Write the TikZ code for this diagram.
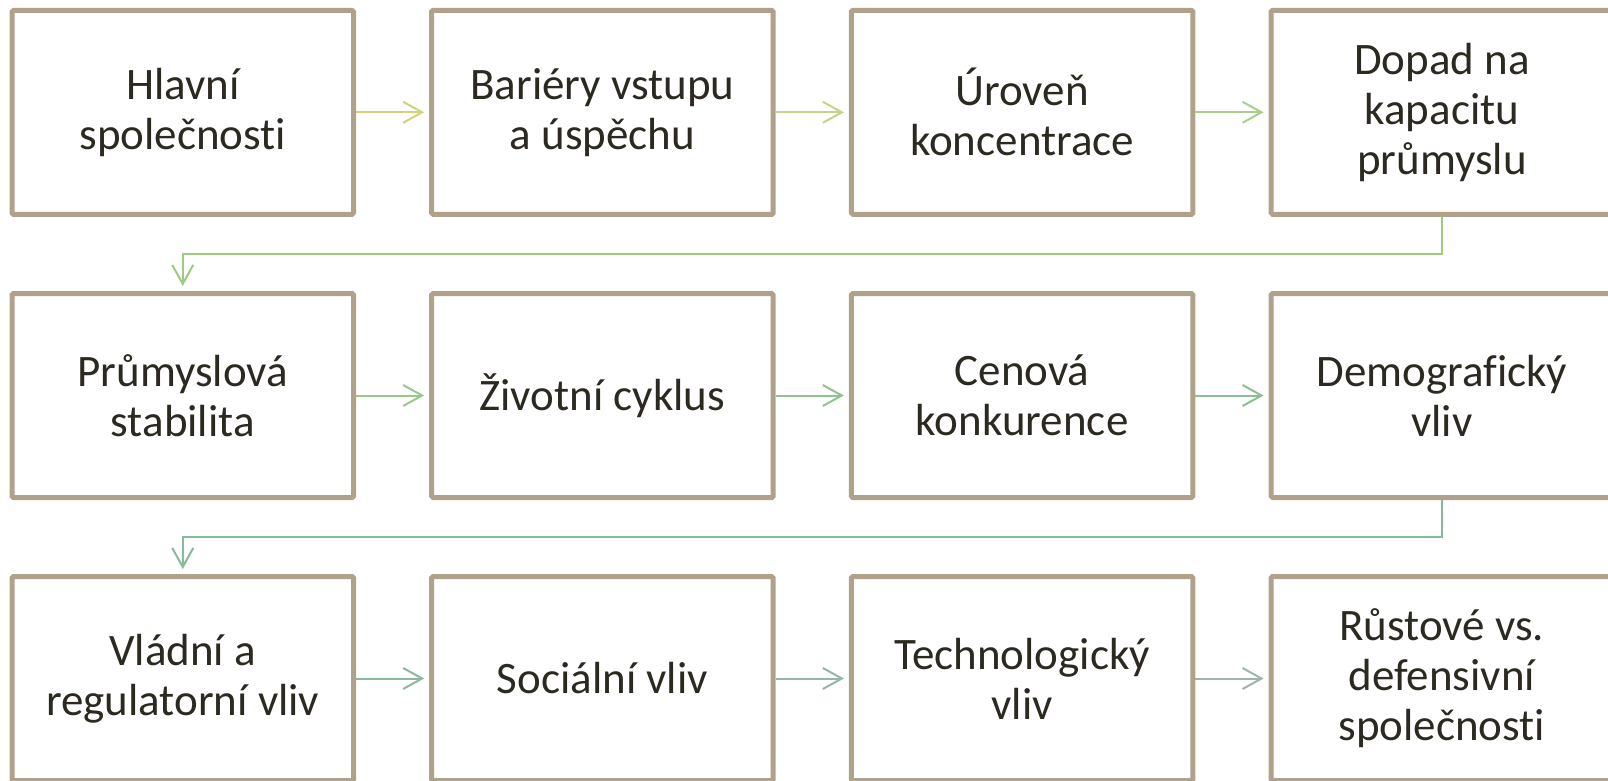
\documentclass[tikz,border=0pt]{standalone}
\usepackage{fontspec}
\setmainfont[Ligatures=NoCommon]{Carlito}
\usetikzlibrary{arrows.meta}
\definecolor{boxline}{HTML}{B0A18A}
\definecolor{txt}{HTML}{2B2920}
\definecolor{ca}{HTML}{D2D27A}
\definecolor{cb}{HTML}{C0D584}
\definecolor{cc}{HTML}{A8D08A}
\definecolor{cd}{HTML}{9DCB82}
\definecolor{ce}{HTML}{96C98A}
\definecolor{cf}{HTML}{90C48E}
\definecolor{cg}{HTML}{8ABF92}
\definecolor{ch}{HTML}{86BA98}
\definecolor{ci}{HTML}{8DB8A0}
\definecolor{cj}{HTML}{96B5A8}
\definecolor{ck}{HTML}{9FB3AF}
\tikzset{
  stepbox/.style={draw=boxline, line width=5pt, fill=white, rounded corners=1.5pt,
    minimum width=341.5pt, minimum height=204pt, inner sep=0pt,
    align=center, text=txt, font=\fontsize{45pt}{50pt}\selectfont},
  flow/.style={line width=2pt, shorten >=5pt,
    -{Straight Barb[length=19pt,width=21pt,line width=2pt]}}
}
\begin{document}
\begin{tikzpicture}[x=1pt,y=-1pt]
\useasboundingbox (0,0) rectangle (1608,781);
\path[clip] (0,0) rectangle (1608,781);
% row 1
\node[stepbox] (a1) at (182.75,112.3) {Hlavní\\společnosti};
\node[stepbox] (a2) at (602.45,112.3) {Bariéry vstupu\\a úspěchu};
\node[stepbox] (a3) at (1022.15,112.3) {Úroveň\\koncentrace};
\node[stepbox] (a4) at (1441.85,112.3) {Dopad na\\kapacitu\\průmyslu};
% row 2
\node[stepbox] (b1) at (182.75,395.5) {Průmyslová\\stabilita};
\node[stepbox] (b2) at (602.45,395.5) {Životní cyklus};
\node[stepbox] (b3) at (1022.15,395.5) {Cenová\\konkurence};
\node[stepbox] (b4) at (1441.85,395.5) {Demografický\\vliv};
% row 3
\node[stepbox] (c1) at (182.75,678.5) {Vládní a\\regulatorní vliv};
\node[stepbox] (c2) at (602.45,678.5) {Sociální vliv};
\node[stepbox] (c3) at (1022.15,678.5) {Technologický\\vliv};
\node[stepbox] (c4) at (1441.85,678.5) {Růstové vs.\\defensivní\\společnosti};
% elbow points
\coordinate (k1) at (182.75,254);
\coordinate (k2) at (182.75,537.3);
% arrows
\draw[flow, ca] (a1) -- (a2);
\draw[flow, cb] (a2) -- (a3);
\draw[flow, cc] (a3) -- (a4);
\draw[flow, cd] (a4.south) |- (k1) -- (b1.north);
\draw[flow, ce] (b1) -- (b2);
\draw[flow, cf] (b2) -- (b3);
\draw[flow, cg] (b3) -- (b4);
\draw[flow, ch] (b4.south) |- (k2) -- (c1.north);
\draw[flow, ci] (c1) -- (c2);
\draw[flow, cj] (c2) -- (c3);
\draw[flow, ck] (c3) -- (c4);
\end{tikzpicture}
\end{document}
